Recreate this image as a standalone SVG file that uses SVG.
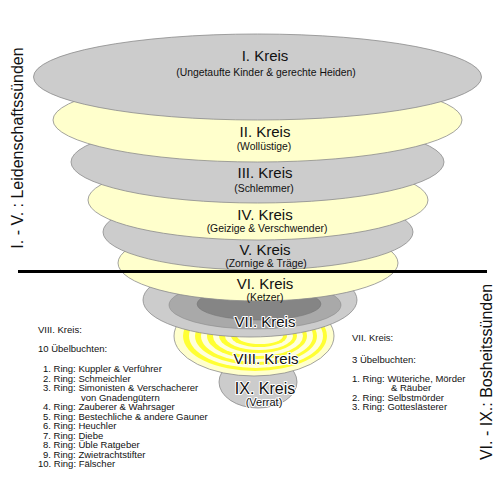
<svg xmlns="http://www.w3.org/2000/svg" width="500" height="488" viewBox="0 0 500 488">
<style>
.g{fill:#cccccc;stroke:#8c8c8c;stroke-width:0.8}
.y{fill:#ffffcc;stroke:#8c8c8c;stroke-width:0.8}
.t{font-family:"Liberation Sans",Arial,sans-serif;fill:#111;text-anchor:middle}
.k{font-size:15px}
.s{font-size:10.4px}
.h{stroke:#ffffff;stroke-width:2px;paint-order:stroke;stroke-linejoin:round}
.n{font-family:"Liberation Sans",Arial,sans-serif;font-size:9.5px;fill:#111}
.v{font-family:"Liberation Sans",Arial,sans-serif;font-size:16px;fill:#111;text-anchor:middle}
.ry{fill:#ffff33;stroke:none}
.rw{fill:#ffffdd;stroke:none}
</style>
<g id="kreis9">
<ellipse class="g" cx="258" cy="382" rx="39" ry="26"/>
</g>
<g id="kreis8">
<ellipse class="y" cx="254" cy="336" rx="80" ry="40"/>
<ellipse class="ry" cx="255" cy="336" rx="72" ry="35"/>
<ellipse class="rw" cx="256" cy="336" rx="67" ry="32"/>
<ellipse class="ry" cx="256" cy="336" rx="61" ry="29"/>
<ellipse class="rw" cx="257" cy="336" rx="56" ry="26"/>
<ellipse class="ry" cx="257" cy="336" rx="50" ry="23"/>
<ellipse class="rw" cx="258" cy="336" rx="45" ry="20"/>
<ellipse class="ry" cx="258" cy="336" rx="39" ry="17"/>
<ellipse class="rw" cx="259" cy="336" rx="34" ry="14"/>
<ellipse class="ry" cx="259" cy="336" rx="28" ry="11"/>
<ellipse class="rw" cx="260" cy="336" rx="23" ry="8"/>
</g>
<g id="kreis7">
<ellipse class="g" cx="250" cy="300" rx="107" ry="37"/>
<ellipse cx="255" cy="305" rx="86" ry="24" fill="#a9a9a9" stroke="#8c8c8c" stroke-width="0.6"/>
<ellipse cx="259" cy="304" rx="62" ry="16" fill="#858585" stroke="#777" stroke-width="0.6"/>
</g>
<g id="kreis6"><ellipse class="y" cx="258" cy="263" rx="140" ry="38"/></g>
<g id="kreis5"><ellipse class="g" cx="258" cy="232" rx="155" ry="38"/></g>
<g id="kreis4"><ellipse class="y" cx="258" cy="200" rx="170" ry="40"/></g>
<g id="kreis3"><ellipse class="g" cx="257.5" cy="162" rx="186.5" ry="41"/></g>
<g id="kreis2"><ellipse class="y" cx="257.5" cy="120" rx="204.5" ry="42"/></g>
<g id="kreis1"><ellipse class="g" cx="257.5" cy="77" rx="224" ry="43"/></g>
<g id="connectors">
<line x1="18" y1="271.5" x2="487" y2="271.5" stroke="#000" stroke-width="3"/>
</g>
<g id="labels">
<text class="t k" x="265" y="61">I. Kreis</text>
<text class="t s" x="266" y="75.5">(Ungetaufte Kinder &amp; gerechte Heiden)</text>
<text class="t k" x="265" y="137">II. Kreis</text>
<text class="t s" x="264" y="150">(Wollüstige)</text>
<text class="t k" x="265" y="178">III. Kreis</text>
<text class="t s" x="264" y="192">(Schlemmer)</text>
<text class="t k" x="265" y="220">IV. Kreis</text>
<text class="t s" x="267" y="232">(Geizige &amp; Verschwender)</text>
<text class="t k" x="265" y="255">V. Kreis</text>
<text class="t s" x="266" y="267">(Zornige &amp; Träge)</text>
<text class="t k" x="265" y="289">VI. Kreis</text>
<text class="t s" x="265" y="301">(Ketzer)</text>
<text class="t k h" x="265" y="327">VII. Kreis</text>
<text class="t k h" x="266" y="364">VIII. Kreis</text>
<text class="t h" x="265" y="394" font-size="16">IX. Kreis</text>
<text class="t h" x="264" y="406" font-size="11">(Verrat)</text>
</g>
<g id="side-left">
<text class="v" transform="translate(23,148) rotate(-90)">I. - V. : Leidenschaftssünden</text>
</g>
<g id="side-right">
<text class="v" transform="translate(492,372) rotate(-90)">VI. - IX.: Bosheitssünden</text>
</g>
<g id="legend-viii">
<text class="n" x="38" y="333">VIII. Kreis:</text>
<text class="n" x="38" y="352">10 Übelbuchten:</text>
<text class="n" x="43" y="372">1. Ring: Kuppler &amp; Verführer</text>
<text class="n" x="43" y="381.5">2. Ring: Schmeichler</text>
<text class="n" x="43" y="391">3. Ring: Simonisten &amp; Verschacherer</text>
<text class="n" x="81" y="400.5">von Gnadengütern</text>
<text class="n" x="43" y="410">4. Ring: Zauberer &amp; Wahrsager</text>
<text class="n" x="43" y="419.5">5. Ring: Bestechliche &amp; andere Gauner</text>
<text class="n" x="43" y="429">6. Ring: Heuchler</text>
<text class="n" x="43" y="438.5">7. Ring: Diebe</text>
<text class="n" x="43" y="448">8. Ring: Üble Ratgeber</text>
<text class="n" x="43" y="457.5">9. Ring: Zwietrachtstifter</text>
<text class="n" x="38" y="467">10. Ring: Fälscher</text>
</g>
<g id="legend-vii">
<text class="n" x="352" y="341">VII. Kreis:</text>
<text class="n" x="352" y="363">3 Übelbuchten:</text>
<text class="n" x="352" y="381.5">1. Ring: Wüteriche, Mörder</text>
<text class="n" x="391" y="391">&amp; Räuber</text>
<text class="n" x="352" y="400.5">2. Ring: Selbstmörder</text>
<text class="n" x="352" y="410">3. Ring: Gotteslästerer</text>
</g>
</svg>
